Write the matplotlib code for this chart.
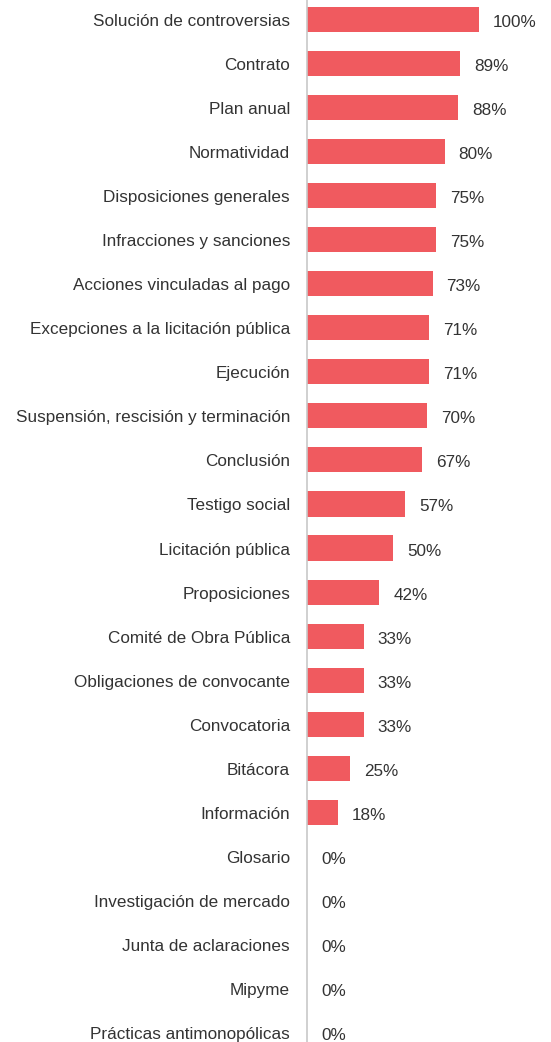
import matplotlib.pyplot as plt

#===== DATA =====#
categories = ["Solución de controversias", "Contrato", "Plan anual", "Normatividad",
              "Disposiciones generales", "Infracciones y sanciones",
              "Acciones vinculadas al pago", "Excepciones a la licitación pública",
              "Ejecución", "Suspensión, rescisión y terminación", "Conclusión",
              "Testigo social", "Licitación pública", "Proposiciones",
              "Comité de Obra Pública", "Obligaciones de convocante", "Convocatoria",
              "Bitácora", "Información", "Glosario", "Investigación de mercado",
              "Junta de aclaraciones", "Mipyme", "Prácticas antimonopólicas"]
values = [100, 89, 88, 80, 75, 75, 73, 71, 71, 70, 67, 57, 50, 42,
          33, 33, 33, 25, 18, 0, 0, 0, 0, 0]

#===== STYLE =====#
plt.rcParams['font.family'] = ['Liberation Sans', 'DejaVu Sans']
bar_color = "#F05A5F"
text_color = "#333333"

fig = plt.figure(figsize=(5.51, 10.42), dpi=100)
ax = fig.add_axes([307 / 551, 0, 244 / 551, 1])

pos = list(range(len(categories)))
ax.barh(pos, values, height=0.57, color=bar_color)

# labels left of axis, percentages right of bars
for i, (cat, v) in enumerate(zip(categories, values)):
    ax.annotate(cat, (0, i), xytext=(-17, -2), textcoords='offset pixels',
                ha='right', va='center', fontsize=12.3, color=text_color,
                annotation_clip=False)
    ax.annotate("{}%".format(v), (v, i), xytext=(14, -3), textcoords='offset pixels',
                ha='left', va='center', fontsize=12.3, color=text_color)

ax.set_xlim(0, 244 / 172 * 100)
ax.set_ylim(23 + 9.5 / 44.04, -19.5 / 44.04)
ax.set_xticks([])
ax.set_yticks([])
for s in ['top', 'right', 'bottom']:
    ax.spines[s].set_visible(False)
ax.spines['left'].set_color('#c8c8c8')
ax.spines['left'].set_linewidth(1.2)

fig.savefig("out.png", dpi=100)
